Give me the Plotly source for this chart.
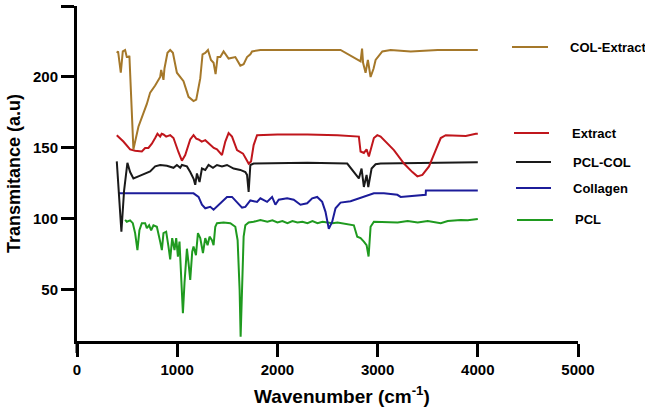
import plotly.graph_objects as go

# ---------------- data ----------------
colext_x = [397, 410, 437, 457, 480, 497, 517, 523, 563, 613, 697, 730, 780, 830, 840, 863, 873, 903, 930, 957,
            997, 1063, 1113, 1163, 1190, 1230, 1253, 1280, 1307, 1337, 1363, 1383, 1403, 1430, 1463, 1513, 1580,
            1630, 1663, 1697, 1730, 1747, 1830, 2300, 2630, 2830, 2845, 2855, 2880, 2903, 2930, 2960, 2980, 3047,
            3130, 3330, 3600, 4000]
colext_y = [217, 218, 203, 218, 219, 214, 214, 215, 149, 165, 181, 189, 194, 200, 205, 198, 206, 217, 219, 217,
            203, 197, 186, 183, 184, 199, 216, 217, 219, 212, 210, 202, 214, 214, 218, 213, 214,
            208, 209, 214, 216, 218, 219, 219, 219, 211, 220, 210, 203, 212, 200, 206, 212, 218,
            219, 218, 219, 219]

extract_x = [397, 463, 530, 580, 647, 680, 713, 747, 780, 803, 830, 845, 863, 890, 930, 963, 1013, 1047, 1080,
             1130, 1163, 1190, 1213, 1245, 1280, 1330, 1365, 1397, 1447, 1480, 1513, 1547, 1597, 1657, 1680, 1713,
             1737, 1763, 1797, 2000, 2300, 2600, 2813, 2830, 2863, 2890, 2913, 2963, 2997, 3030, 3163, 3263,
             3347, 3397, 3447, 3513, 3580, 3630, 3680, 3780, 3880, 3980, 4000]
extract_y = [159, 154.5, 149, 148, 147.5, 150, 150, 153, 157, 160, 158, 160, 159.5, 158, 159, 157, 147, 141, 145,
             156, 159, 156.5, 156, 154.5, 155.5, 152, 150, 149, 145, 154.5, 160.5, 158, 148.5, 146, 143, 139,
             140.5, 152, 159, 159.5, 159.5, 159, 158, 147.5, 146.5, 149, 144, 157, 159, 158, 148.5, 139,
             133, 130, 131, 137, 148.5, 157, 159, 158.5, 158.5, 160, 160]

pclcol_x = [397, 420, 443, 470, 497, 503, 530, 563, 613, 663, 730, 780, 830, 897, 963, 997, 1030, 1047, 1097,
            1130, 1165, 1180, 1197, 1223, 1247, 1280, 1313, 1357, 1397, 1447, 1497, 1563, 1630, 1680, 1697,
            1713, 1730, 1763, 2300, 2697, 2763, 2813, 2840, 2863, 2890, 2907, 2940, 2980, 3030, 4000]
pclcol_y = [140.5, 115, 91, 120, 139, 139.5, 133, 128.5, 130, 131.5, 133.5, 137, 138, 137.5, 136, 138, 136, 138, 137,
            133, 128, 124, 132, 126, 135.5, 134.5, 138, 136, 138, 137, 138, 135.5, 134.5, 133, 131,
            119, 138, 139, 139.5, 139, 133, 128.5, 135.5, 122.5, 131, 122.5, 135.5, 138.5, 139, 140]

collagen_x = [413, 1163, 1213, 1247, 1280, 1330, 1363, 1430, 1497, 1547, 1597, 1647, 1680, 1730, 1797, 1830,
              1897, 1947, 1980, 2013, 2097, 2163, 2230, 2297, 2347, 2397, 2447, 2480, 2513, 2547, 2580, 2630,
              2730, 2847, 2963, 3063, 3197, 3230, 3297, 3463, 3480, 3482, 4000]
collagen_y = [118, 118, 115.5, 110, 107.5, 108.5, 106.5, 111, 115.5, 115.5, 112, 108, 108.5, 113, 112, 114.5,
              112, 115.5, 110, 113.5, 114.5, 113.5, 110, 111, 114.5, 115.5, 112, 105, 93, 98, 107.5, 111.5,
              112.5, 115.5, 118, 118, 117, 115.5, 116, 117, 117, 120, 120]

pcl_x = [480, 497, 530, 557, 580, 603, 623, 647, 680, 697, 720, 740, 763, 797, 830, 847, 863, 890, 913, 930,
         950, 973, 990, 1007, 1023, 1040, 1057, 1073, 1097, 1113, 1130, 1150, 1163, 1187, 1207, 1230, 1257,
         1280, 1303, 1323, 1347, 1363, 1380, 1397, 1463, 1530, 1580, 1603, 1623, 1633, 1647, 1663, 1680,
         1713, 1763, 1830, 1900, 1950, 2000, 2050, 2100, 2150, 2200, 2250, 2300, 2350, 2400, 2450, 2500,
         2550, 2600, 2650, 2700, 2763, 2797, 2830, 2863, 2890, 2910, 2930, 2963, 3063, 3200, 3300, 3400,
         3500, 3630, 3700, 3830, 3900, 3980, 4000]
pcl_y = [99.3, 98, 99, 97, 90, 78, 92, 97, 97, 93.5, 95.5, 92, 95.5, 94.5, 84, 78, 90, 91, 80.5, 71.5,
         86.5, 78, 86.5, 73.5, 84, 59, 33.5, 55, 79, 69, 57, 77, 80.5, 74.5, 90, 86.5, 76,
         86.5, 81.5, 87.5, 85, 81.5, 94.5, 97, 97.5, 97, 94.5, 85, 50, 17, 50, 87.5, 95.5,
         97.5, 98, 99.3, 98, 99, 97.5, 98.5, 97, 98.5, 97.5, 98, 97, 98.5, 97, 98, 97.5,
         97, 97.5, 97, 96.5, 95.5, 87.5, 86.5, 84, 81.5, 73.5, 94.5, 98, 98, 97.5, 98.5, 97.5,
         98.5, 97, 98.5, 99.3, 99, 100, 100]

x_ticks = [0, 1000, 2000, 3000, 4000, 5000]
y_ticks = [50, 100, 150, 200, 250]

series = [
    ("PCL", pcl_x, pcl_y, "#1f9a1f"),
    ("Collagen", collagen_x, collagen_y, "#1c1c9a"),
    ("PCL-COL", pclcol_x, pclcol_y, "#1a1a1a"),
    ("Extract", extract_x, extract_y, "#c0161c"),
    ("COL-Extract", colext_x, colext_y, "#a5782a"),
]

# legend placement (pixels) : label -> (line x0, line x1, y, text x)
legend_pos = {
    "COL-Extract": (512, 548, 47, 568),
    "Extract": (514, 549, 133, 570),
    "PCL-COL": (516, 551, 162, 571),
    "Collagen": (516, 551, 188, 571),
    "PCL": (517, 553, 220, 573),
}

W, H = 645, 410
ML, MR, MT, MB = 77, 67, 6, 69
PW, PH = W - ML - MR, H - MT - MB

def px2paper(px, py):
    return (px - ML) / PW, (H - MB - py) / PH

fig = go.Figure()
for name, xs, ys, col in series:
    fig.add_trace(go.Scatter(x=xs, y=ys, mode="lines", name=name,
                             line=dict(color=col, width=2), showlegend=False))

FAM = "Liberation Sans, Arial, sans-serif"

shapes = []
annotations = []
for name, xs, ys, col in series:
    x0, x1, yy, tx = legend_pos[name]
    a0, b0 = px2paper(x0, yy)
    a1, _ = px2paper(x1, yy)
    shapes.append(dict(type="line", xref="paper", yref="paper", x0=a0, x1=a1, y0=b0, y1=b0,
                       line=dict(color=col, width=2)))
    ta, tb = px2paper(tx, yy)
    annotations.append(dict(text="<b>" + name + "</b>", xref="paper", yref="paper", x=ta, y=tb,
                            xanchor="left", yanchor="middle", showarrow=False,
                            font=dict(size=13, family=FAM, color="black")))

# x-axis title (placed as annotation to match the reference position)
xt_a, xt_b = px2paper(342, 395)
annotations.append(dict(text="<b>Wavenumber (cm<sup>-1</sup>)</b>", xref="paper", yref="paper",
                        x=xt_a, y=xt_b, xanchor="center", yanchor="middle", showarrow=False,
                        font=dict(size=19, family=FAM, color="black")))

# y-axis line extension below the x axis (offset axis style)
shapes.append(dict(type="line", xref="paper", yref="paper", x0=0, x1=0, y0=0, y1=-12 / PH,
                   line=dict(color="black", width=3)))

fig.update_layout(
    width=W, height=H,
    margin=dict(l=ML, r=MR, t=MT, b=MB),
    paper_bgcolor="white", plot_bgcolor="white",
    shapes=shapes, annotations=annotations,
    xaxis=dict(range=[0, 5000], tickvals=x_ticks, ticktext=["<b>%d</b>" % v for v in x_ticks],
               showline=True, linecolor="black", linewidth=3, ticks="outside", ticklen=13,
               tickwidth=3, tickcolor="black", showgrid=False, zeroline=False, automargin=False,
               tickfont=dict(size=15, family=FAM, color="black")),
    yaxis=dict(range=[14, 250], tickvals=y_ticks, ticktext=["<b>%d</b>" % v for v in y_ticks],
               showline=True, linecolor="black", linewidth=3, ticks="outside", ticklen=13,
               tickwidth=3, tickcolor="black", showgrid=False, zeroline=False, automargin=False,
               tickfont=dict(size=15, family=FAM, color="black"),
               title=dict(text="<b>Transmitance (a.u)</b>",
                          font=dict(size=18, family=FAM, color="black"), standoff=8)),
)

fig.write_html("out.html", config={"displayModeBar": False},
               post_script="document.body.style.margin='0';")
